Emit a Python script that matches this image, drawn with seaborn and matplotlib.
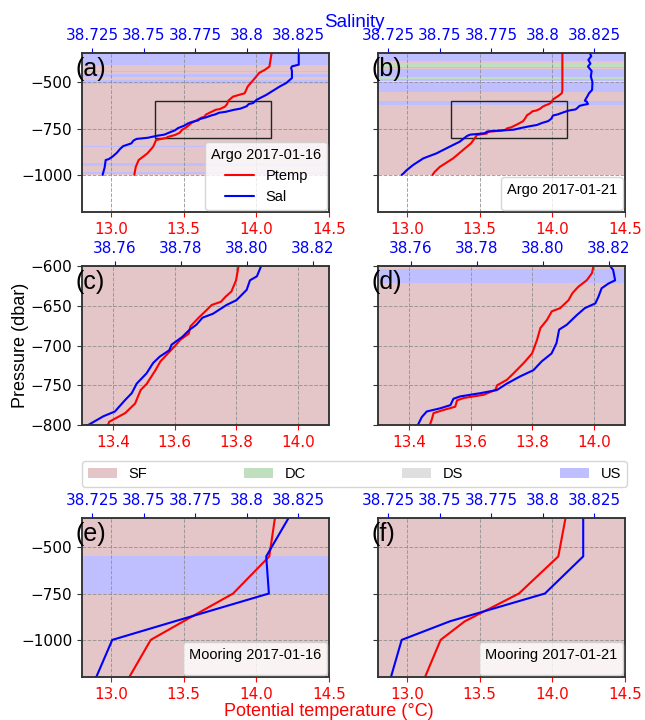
import numpy as np
import matplotlib
matplotlib.use('Agg')
import matplotlib.pyplot as plt
import seaborn as sns
from matplotlib.patches import Rectangle, Patch
from matplotlib.lines import Line2D
from matplotlib.ticker import FuncFormatter

sns.set_style('ticks')
plt.rcParams['font.family'] = ['DejaVu Sans']
plt.rcParams['axes.unicode_minus'] = True
plt.rcParams['text.color'] = 'black'
plt.rcParams['axes.labelcolor'] = 'black'
LAB = ['Liberation Sans', 'DejaVu Sans']

# ---------------- data ----------------
# Argo profile 2017-01-16
argo1_pt_pres = [-343, -416, -433, -450, -488, -524, -560, -578, -600, -618, -632, -639, -645, -649,
                 -653, -665, -676, -685, -693, -701, -720, -731, -748, -756, -773, -785, -796, -800,
                 -812, -848, -884, -920, -957, -1000]
argo1_pt = [14.105, 14.09, 14.06, 14.02, 13.98, 13.94, 13.92, 13.84, 13.807, 13.799, 13.784, 13.764,
            13.75, 13.72, 13.71, 13.678, 13.651, 13.646, 13.618, 13.60, 13.554, 13.538, 13.51, 13.49,
            13.472, 13.44, 13.388, 13.384, 13.31, 13.29, 13.25, 13.19, 13.17, 13.16]
argo1_sal_pres = [-343, -406, -415, -424, -440, -478, -505, -524, -569, -596, -600, -613, -618, -630,
                  -643, -649, -660, -665, -674, -680, -689, -699, -706, -714, -722, -735, -748, -760,
                  -769, -783, -789, -800, -806, -815, -830, -845, -860, -880, -900, -915, -920, -960,
                  -1000]
argo1_sal = [38.8253, 38.8253, 38.8220, 38.8216, 38.8220, 38.8220, 38.8192, 38.8160, 38.8095, 38.8047,
             38.8044, 38.8031, 38.8010, 38.8000, 38.7969, 38.7939, 38.7898, 38.7866, 38.7847, 38.7827,
             38.7805, 38.7772, 38.7765, 38.7736, 38.7716, 38.7696, 38.7666, 38.7651, 38.7630, 38.7600,
             38.7565, 38.7519, 38.7465, 38.7450, 38.7440, 38.7400, 38.7385, 38.7370, 38.7350, 38.7330,
             38.7315, 38.7310, 38.7300]

# Argo profile 2017-01-21
argo2_pt_pres = [-343, -542, -560, -575, -590, -600, -609, -618, -626, -634, -643, -653, -657, -668,
                 -678, -693, -710, -722, -735, -743, -750, -756, -762, -766, -769, -777, -781, -785,
                 -792, -800, -830, -866, -911, -957, -984, -1000]
argo2_pt = [14.069, 14.069, 14.065, 14.04, 14.01, 13.998, 13.993, 13.976, 13.949, 13.93, 13.917, 13.89,
            13.863, 13.847, 13.826, 13.815, 13.799, 13.772, 13.739, 13.718, 13.686, 13.68, 13.642,
            13.578, 13.556, 13.55, 13.513, 13.48, 13.475, 13.468, 13.44, 13.385, 13.317, 13.225,
            13.19, 13.175]
argo2_sal_pres = [-343, -360, -380, -400, -416, -440, -470, -500, -542, -560, -575, -590, -600, -605,
                  -618, -622, -628, -639, -647, -653, -662, -674, -680, -697, -710, -720, -731, -739,
                  -748, -756, -760, -764, -767, -775, -779, -783, -790, -800, -821, -848, -884, -911,
                  -947, -975, -993, -1000]
argo2_sal = [38.8229, 38.8236, 38.8222, 38.8232, 38.8220, 38.8238, 38.8234, 38.8242, 38.8240, 38.8225,
             38.8218, 38.8210, 38.8205, 38.8214, 38.8220, 38.8200, 38.8179, 38.8169, 38.8160, 38.8128,
             38.8103, 38.8073, 38.8050, 38.8042, 38.8027, 38.7997, 38.7972, 38.7931, 38.7891, 38.7861,
             38.7810, 38.7750, 38.7729, 38.7720, 38.7689, 38.7648, 38.7633, 38.7621, 38.7597, 38.7548,
             38.7484, 38.7420, 38.7370, 38.7339, 38.7323, 38.7315]

# Mooring profiles
moor_pres = [-300, -550, -750, -900, -1000, -1250]
moor1_pt = [14.136, 14.089, 13.84, 13.498, 13.273, 13.089]
moor1_sal = [38.8226, 38.8095, 38.8108, 38.7650, 38.7347, 38.7250]
moor2_pt = [14.101, 14.041, 13.770, 13.397, 13.231, 13.097]
moor2_sal = [38.8197, 38.8197, 38.8011, 38.7549, 38.7315, 38.7250]

# Water-mass layers: (top, bottom, class)
argo1_layers = [(-340, -408, 'US'), (-408, -440, 'SF'), (-440, -447, 'US'), (-447, -455, 'SF'),
                (-455, -473, 'US'), (-473, -487, 'SF'), (-487, -510, 'US'), (-510, -845, 'SF'),
                (-845, -850, 'US'), (-850, -938, 'SF'), (-938, -951, 'US'), (-951, -984, 'SF'),
                (-984, -996, 'US'), (-996, -1000, 'SF')]
argo2_layers = [(-340, -388, 'US'), (-388, -397, 'SF'), (-397, -416, 'DC'), (-416, -424, 'US'),
                (-424, -430, 'SF'), (-430, -470, 'US'), (-470, -482, 'DC'), (-482, -492, 'US'),
                (-492, -497, 'DS'), (-497, -551, 'US'), (-551, -604, 'SF'), (-604, -622, 'US'),
                (-622, -1000, 'SF')]
moor1_layers = [(-300, -550, 'SF'), (-550, -750, 'US'), (-750, -1250, 'SF')]
moor2_layers = [(-300, -1250, 'SF')]

classes = ['SF', 'DC', 'DS', 'US']
class_colors = {'SF': (0.58, 0.10, 0.14), 'DC': 'green', 'DS': 'gray', 'US': 'blue'}

full_pt_lim = (12.8, 14.5)
full_sal_lim = (38.72, 38.84)
full_pres_lim = (-1200, -343)
full_pt_ticks = [13.0, 13.5, 14.0, 14.5]
full_sal_ticks = [38.725, 38.75, 38.775, 38.8, 38.825]
full_pres_ticks = [-500, -750, -1000]

zoom_pt_lim = (13.3, 14.1)
zoom_sal_lim = (38.75, 38.825)
zoom_pres_lim = (-800, -600)
zoom_pt_ticks = [13.4, 13.6, 13.8, 14.0]
zoom_sal_ticks = [38.76, 38.78, 38.80, 38.82]
zoom_pres_ticks = [-600, -650, -700, -750, -800]

# ---------------- figure ----------------
W, H = 645, 720
fig = plt.figure(figsize=(W / 100, H / 100), dpi=100)
ALPHA = 0.25


def rect(l, r, t, b):
    return [l / W, 1 - b / H, (r - l) / W, (b - t) / H]


def panel(pos, pt_p, pt_v, sal_p, sal_v, layers, pt_lim, sal_lim, pres_lim,
          pt_ticks, sal_ticks, sal_fmt, pres_ticks, label, left, box=False,
          title=None, entries=False):
    ax = fig.add_axes(pos)
    for top, bot, kind in layers:
        ax.axhspan(bot, top, color=class_colors[kind], alpha=ALPHA, lw=0, zorder=0.4)
    sns.lineplot(x=np.array(pt_v), y=np.array(pt_p), sort=False, estimator=None,
                 color='red', lw=1.5, ax=ax)
    ax2 = ax.twiny()
    sns.lineplot(x=np.array(sal_v), y=np.array(sal_p), sort=False, estimator=None,
                 color='blue', lw=1.5, ax=ax2)
    ax.set_xlim(*pt_lim)
    ax2.set_xlim(*sal_lim)
    ax.set_ylim(*pres_lim)
    ax.set_xticks(pt_ticks)
    ax.xaxis.set_major_formatter(FuncFormatter(lambda v, p: f'{v:.1f}'))
    ax2.set_xticks(sal_ticks)
    ax2.xaxis.set_major_formatter(FuncFormatter(sal_fmt))
    ax.set_yticks(pres_ticks)
    for a in (ax, ax2):
        a.set_xlabel('')
        a.set_ylabel('')
        for s in a.spines.values():
            s.set_color('#333333')
            s.set_linewidth(1.1)
    ax.tick_params(axis='x', colors='red', labelsize=11)
    ax.tick_params(axis='y', labelsize=11, labelleft=left, color='#333333', labelcolor='black')
    ax2.tick_params(axis='x', colors='blue', labelsize=11)
    ax.grid(True, ls='--', color='0.55', lw=0.7, alpha=0.8)
    if box:
        ax.add_patch(Rectangle((zoom_pt_lim[0], zoom_pres_lim[0]),
                               zoom_pt_lim[1] - zoom_pt_lim[0],
                               zoom_pres_lim[1] - zoom_pres_lim[0],
                               fill=False, ec='#222222', lw=1.0, zorder=1.8))
    ax2.text(-0.025, 0.975, label, transform=ax2.transAxes, fontsize=18, family=LAB,
             ha='left', va='top', zorder=10)
    if title is not None:
        prop = {'family': LAB, 'size': 10.5}
        if entries:
            handles = [Line2D([], [], color='red', lw=1.5), Line2D([], [], color='blue', lw=1.5)]
            leg = ax2.legend(handles, ['Ptemp', 'Sal'], title=title, loc='lower right',
                             prop=prop, title_fontproperties=prop, borderaxespad=0.12)
        else:
            leg = ax2.legend(handles=[], title=title, loc='lower right',
                             prop=prop, title_fontproperties=prop, borderaxespad=0.15)
        leg.set_zorder(20)
    return ax, ax2


fmt_g = lambda v, p: f'{v:g}'
fmt_2 = lambda v, p: f'{v:.2f}'

L1, R1, L2, R2 = 82, 329, 378, 625

panel(rect(L1, R1, 53, 212), argo1_pt_pres, argo1_pt, argo1_sal_pres, argo1_sal, argo1_layers,
      full_pt_lim, full_sal_lim, full_pres_lim, full_pt_ticks, full_sal_ticks, fmt_g,
      full_pres_ticks, '(a)', True, box=True, title='Argo 2017-01-16', entries=True)
panel(rect(L2, R2, 53, 212), argo2_pt_pres, argo2_pt, argo2_sal_pres, argo2_sal, argo2_layers,
      full_pt_lim, full_sal_lim, full_pres_lim, full_pt_ticks, full_sal_ticks, fmt_g,
      full_pres_ticks, '(b)', False, box=True, title='Argo 2017-01-21')
panel(rect(L1, R1, 266, 425), argo1_pt_pres, argo1_pt, argo1_sal_pres, argo1_sal, argo1_layers,
      zoom_pt_lim, zoom_sal_lim, zoom_pres_lim, zoom_pt_ticks, zoom_sal_ticks, fmt_2,
      zoom_pres_ticks, '(c)', True)
panel(rect(L2, R2, 266, 425), argo2_pt_pres, argo2_pt, argo2_sal_pres, argo2_sal, argo2_layers,
      zoom_pt_lim, zoom_sal_lim, zoom_pres_lim, zoom_pt_ticks, zoom_sal_ticks, fmt_2,
      zoom_pres_ticks, '(d)', False)
panel(rect(L1, R1, 518, 677), moor_pres, moor1_pt, moor_pres, moor1_sal, moor1_layers,
      full_pt_lim, full_sal_lim, full_pres_lim, full_pt_ticks, full_sal_ticks, fmt_g,
      full_pres_ticks, '(e)', True, title='Mooring 2017-01-16')
panel(rect(L2, R2, 518, 677), moor_pres, moor2_pt, moor_pres, moor2_sal, moor2_layers,
      full_pt_lim, full_sal_lim, full_pres_lim, full_pt_ticks, full_sal_ticks, fmt_g,
      full_pres_ticks, '(f)', False, title='Mooring 2017-01-21')

patches = [Patch(facecolor=class_colors[c], alpha=ALPHA, label=c, lw=0) for c in classes]
fig.legend(handles=patches, ncol=4, mode='expand', loc='center',
           bbox_to_anchor=(82 / W, 1 - 488 / H, 545 / W, 28 / H),
           prop={'family': LAB, 'size': 10.5}, borderaxespad=0)

fig.text(354 / W, 1 - 26.7 / H, 'Salinity', color='blue', fontsize=13.5, family=LAB,
         ha='center', va='baseline')
fig.text(329 / W, 1 - 715.5 / H, 'Potential temperature (°C)', color='red', fontsize=13,
         family=LAB, ha='center', va='baseline')
fig.text(20.8 / W, 1 - 345.5 / H, 'Pressure (dbar)', rotation=90, fontsize=13, family=LAB,
         ha='center', va='center')

fig.savefig('out.png', dpi=100)
